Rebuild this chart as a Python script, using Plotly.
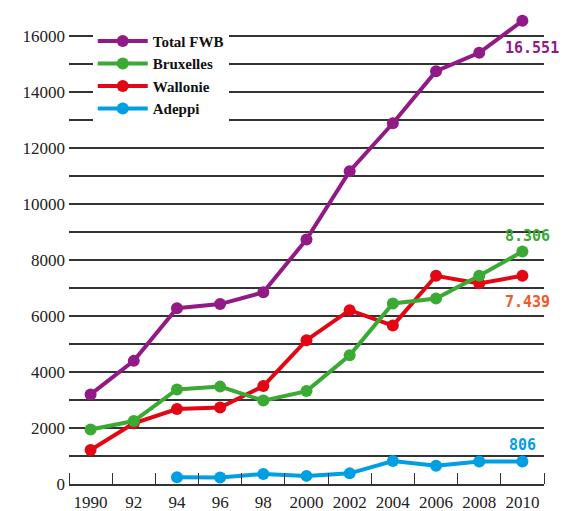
import plotly.graph_objects as go

years = [1990, 1992, 1994, 1996, 1998, 2000, 2002, 2004, 2006, 2008, 2010]
year_labels = ["1990", "92", "94", "96", "98", "2000", "2002", "2004", "2006", "2008", "2010"]

total_fwb = [3200, 4400, 6280, 6430, 6850, 8740, 11180, 12890, 14750, 15410, 16551]
bruxelles = [1950, 2250, 3380, 3480, 2980, 3320, 4600, 6450, 6630, 7440, 8306]
wallonie = [1215, 2170, 2680, 2730, 3500, 5140, 6210, 5660, 7440, 7170, 7439]
adeppi_years = [1994, 1996, 1998, 2000, 2002, 2004, 2006, 2008, 2010]
adeppi = [240, 230, 360, 290, 380, 820, 655, 800, 806]

boundaries = [1989, 1991, 1993, 1995, 1997, 1999, 2001, 2003, 2005, 2007, 2009, 2011]
y_ticks = list(range(0, 16001, 2000))

C_TOTAL = "#921A86"
C_BXL = "#3BAA34"
C_WAL = "#E30613"
C_ADE = "#009FE3"
C_WAL_LABEL = "#F05A28"

series = [
    ("Adeppi", adeppi_years, adeppi, C_ADE),
    ("Wallonie", years, wallonie, C_WAL),
    ("Bruxelles", years, bruxelles, C_BXL),
    ("Total FWB", years, total_fwb, C_TOTAL),
]

fig = go.Figure()
for name, xs, ys, col in series:
    fig.add_trace(go.Scatter(
        x=xs, y=ys, name=name, mode="lines+markers",
        line=dict(color=col, width=4),
        marker=dict(color=col, size=12),
    ))

def fmt(v):
    return f"{v:,}".replace(",", ".")

ann_font = "DejaVu Sans Mono"
annotations = [
    dict(x=years[-1], y=total_fwb[-1], text=fmt(total_fwb[-1]), color=C_TOTAL, xs=10, ys=-27),
    dict(x=years[-1], y=bruxelles[-1], text=fmt(bruxelles[-1]), color=C_BXL, xs=5, ys=16),
    dict(x=years[-1], y=wallonie[-1], text=fmt(wallonie[-1]), color=C_WAL_LABEL, xs=5, ys=-26),
    dict(x=adeppi_years[-1], y=adeppi[-1], text=fmt(adeppi[-1]), color=C_ADE, xs=0, ys=16),
]
for a in annotations:
    fig.add_annotation(
        x=a["x"], y=a["y"], xref="x", yref="y", text="<b>" + a["text"] + "</b>",
        showarrow=False, xshift=a["xs"], yshift=a["ys"],
        font=dict(family=ann_font, size=15, color=a["color"]),
    )

fig.update_layout(
    width=567, height=511,
    margin=dict(l=68.5, r=22.5, t=8, b=27, autoexpand=False),
    paper_bgcolor="white", plot_bgcolor="white",
    showlegend=True,
    legend=dict(
        traceorder="reversed",
        x=0.05, y=0.965, xanchor="left", yanchor="top",
        bgcolor="white", borderwidth=0,
        font=dict(family="Liberation Serif", size=15, color="#111111", weight="bold"),
        itemwidth=50, tracegroupgap=0,
    ),
    xaxis=dict(
        range=[1989, 2011], automargin=False,
        tickmode="array", tickvals=years, ticktext=year_labels,
        ticks="", showgrid=False, zeroline=False,
        showline=True, linecolor="#333333", linewidth=1.5,
        ticklabelstandoff=2,
        tickfont=dict(family="Liberation Serif", size=17, color="#222222"),
        minor=dict(tickmode="array", tickvals=boundaries, ticks="inside",
                   ticklen=11, tickwidth=1.3, tickcolor="#333333", showgrid=False),
    ),
    yaxis=dict(
        range=[0, 17010], automargin=False,
        tickmode="array", tickvals=y_ticks, tickformat="d",
        ticks="", showgrid=True, gridcolor="#333333", gridwidth=1.5,
        zeroline=False, showline=False,
        ticklabelstandoff=3,
        tickfont=dict(family="Liberation Serif", size=17, color="#222222"),
        minor=dict(dtick=1000, tick0=0, showgrid=True, gridcolor="#333333", gridwidth=1.5),
    ),
)

fig.write_html("out.html", config={"displayModeBar": False},
               post_script="document.body.style.margin='0px';")
